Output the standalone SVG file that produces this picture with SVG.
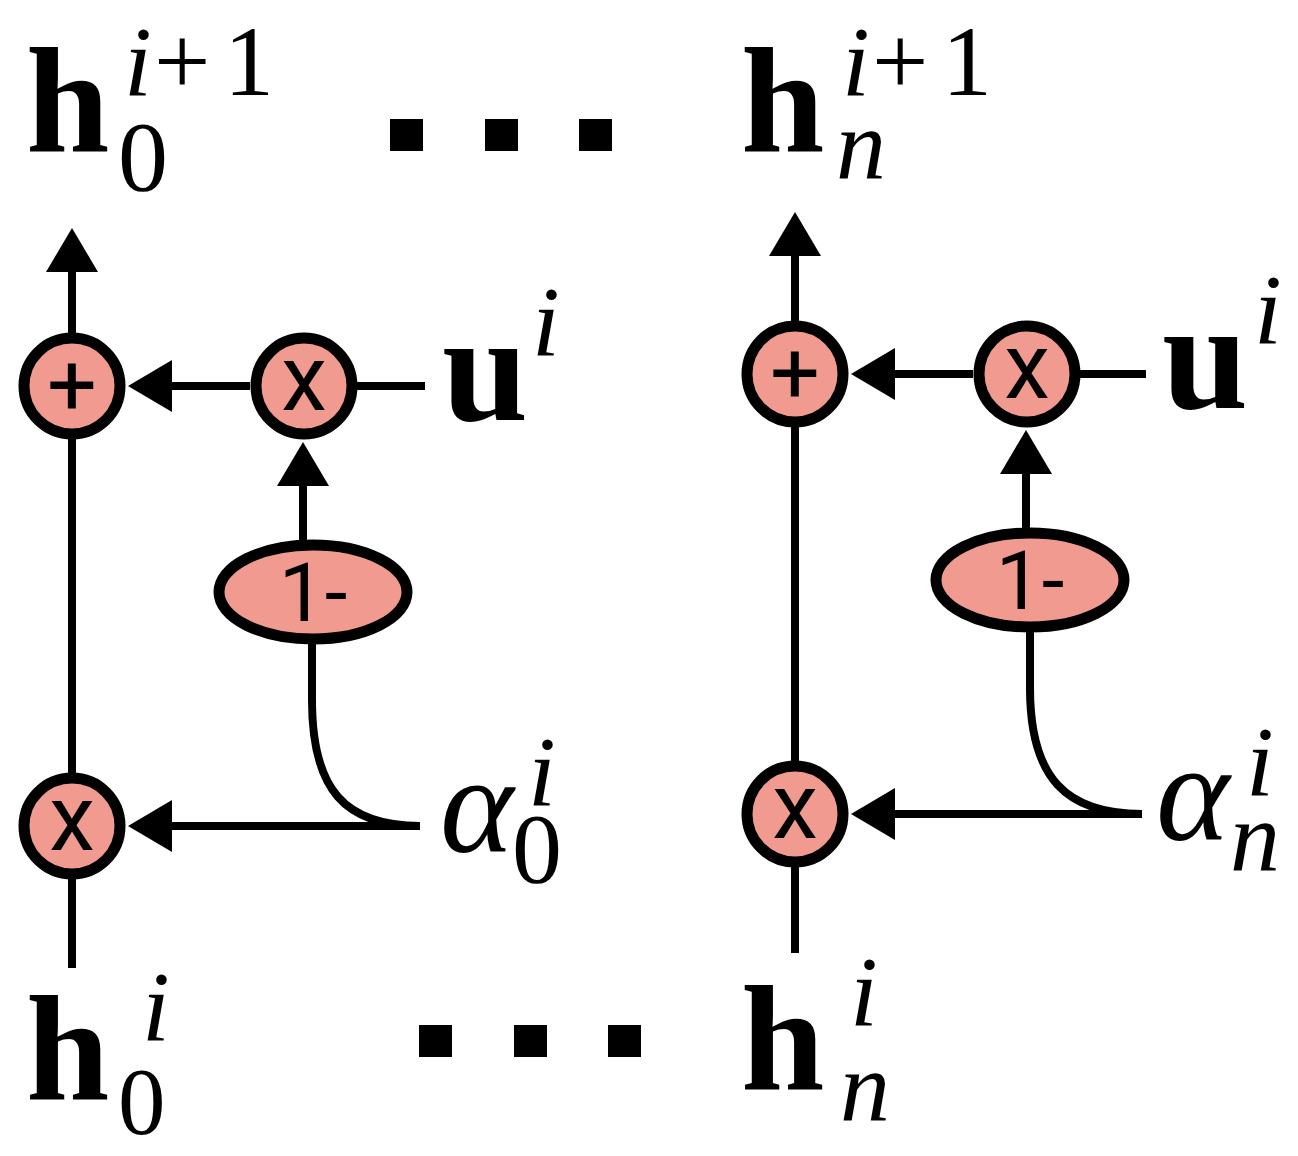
<svg xmlns="http://www.w3.org/2000/svg" width="1298" height="1156" viewBox="0 0 1298 1156">
<style>
.ln{stroke:#000;stroke-width:8;fill:none}
.op{fill:#F19B90;stroke:#000;stroke-width:11}
.opt{fill:#000;text-anchor:middle;font-family:Roboto,sans-serif}
.mt{fill:#000;font-family:serif}
.dot{fill:#000}
</style>
<defs>
<marker id="ah" markerUnits="userSpaceOnUse" viewBox="0 0 44 52" markerWidth="44" markerHeight="52" refX="0" refY="26" orient="auto">
<path d="M0,0 L44,26 L0,52 Z" fill="#000"/>
</marker>
</defs>
<g id="connectors">
<path class="ln" d="M72,968 L72,272" marker-end="url(#ah)"/>
<path class="ln" d="M250,386 L172,386" marker-end="url(#ah)"/>
<path class="ln" d="M304,386 L425,386"/>
<path class="ln" d="M303,540 L303,486" marker-end="url(#ah)"/>
<path class="ln" d="M312,640 L312,700 C312,790 345,826 420,826"/>
<path class="ln" d="M420,826 L172,826" marker-end="url(#ah)"/>
<path class="ln" d="M795,953 L795,256" marker-end="url(#ah)"/>
<path class="ln" d="M973,374 L895,374" marker-end="url(#ah)"/>
<path class="ln" d="M1027,374 L1146,374"/>
<path class="ln" d="M1026,528 L1026,474" marker-end="url(#ah)"/>
<path class="ln" d="M1030,628 L1030,688 C1030,778 1066,814 1142,814"/>
<path class="ln" d="M1142,814 L895,814" marker-end="url(#ah)"/>
</g>
<g id="plus0"><circle class="op" cx="72" cy="386" r="48"/><text class="opt" x="72" y="415" font-size="88">+</text></g>
<g id="mul0top"><circle class="op" cx="304" cy="386" r="48"/><text class="opt" x="304" y="410" font-size="92">x</text></g>
<g id="oneminus0"><ellipse class="op" cx="313" cy="592" rx="94" ry="47"/><text class="opt" x="313" y="621" font-size="82">1-</text></g>
<g id="mul0bot"><circle class="op" cx="72" cy="826" r="48"/><text class="opt" x="72" y="850" font-size="92">x</text></g>
<g id="plusn"><circle class="op" cx="795" cy="374" r="48"/><text class="opt" x="795" y="403" font-size="88">+</text></g>
<g id="mulntop"><circle class="op" cx="1027" cy="374" r="48"/><text class="opt" x="1027" y="398" font-size="92">x</text></g>
<g id="oneminusn"><ellipse class="op" cx="1030" cy="580" rx="94" ry="47"/><text class="opt" x="1030" y="609" font-size="82">1-</text></g>
<g id="mulnbot"><circle class="op" cx="795" cy="814" r="48"/><text class="opt" x="795" y="838" font-size="92">x</text></g>
<g id="label-h0-next"><text class="mt"><tspan font-weight="bold" x="26" y="152" font-size="150">h</tspan><tspan font-style="italic" x="124" y="95" font-size="100">i</tspan><tspan x="154" y="95" font-size="100">+</tspan><tspan x="224" y="95" font-size="100">1</tspan><tspan x="118" y="190" font-size="100">0</tspan></text></g>
<g id="label-hn-next"><text class="mt"><tspan font-weight="bold" x="741" y="152" font-size="150">h</tspan><tspan font-style="italic" x="842" y="95" font-size="100">i</tspan><tspan x="872" y="95" font-size="100">+</tspan><tspan x="942" y="95" font-size="100">1</tspan><tspan font-style="italic" x="836" y="178" font-size="100">n</tspan></text></g>
<g id="label-u0"><text class="mt"><tspan font-weight="bold" x="442" y="420" font-size="155">u</tspan><tspan font-style="italic" x="532" y="355" font-size="100">i</tspan></text></g>
<g id="label-un"><text class="mt"><tspan font-weight="bold" x="1162" y="408" font-size="155">u</tspan><tspan font-style="italic" x="1254" y="343" font-size="100">i</tspan></text></g>
<g id="label-a0"><text class="mt"><tspan font-style="italic" x="440" y="852" font-size="140">α</tspan><tspan font-style="italic" x="528" y="805" font-size="100">i</tspan><tspan x="512" y="882" font-size="100">0</tspan></text></g>
<g id="label-an"><text class="mt"><tspan font-style="italic" x="1156" y="840" font-size="140">α</tspan><tspan font-style="italic" x="1246" y="795" font-size="100">i</tspan><tspan font-style="italic" x="1230" y="870" font-size="100">n</tspan></text></g>
<g id="label-h0"><text class="mt"><tspan font-weight="bold" x="26" y="1100" font-size="150">h</tspan><tspan font-style="italic" x="142" y="1040" font-size="100">i</tspan><tspan x="118" y="1134" font-size="95">0</tspan></text></g>
<g id="label-hn"><text class="mt"><tspan font-weight="bold" x="741" y="1090" font-size="150">h</tspan><tspan font-style="italic" x="850" y="1025" font-size="100">i</tspan><tspan font-style="italic" x="840" y="1120" font-size="100">n</tspan></text></g>
<g id="dots-top"><rect class="dot" x="390" y="119" width="33" height="32"/><rect class="dot" x="485" y="119" width="33" height="32"/><rect class="dot" x="579" y="119" width="33" height="32"/></g>
<g id="dots-bottom"><rect class="dot" x="419" y="1025" width="33" height="32"/><rect class="dot" x="514" y="1025" width="33" height="32"/><rect class="dot" x="608" y="1025" width="33" height="32"/></g>
</svg>
